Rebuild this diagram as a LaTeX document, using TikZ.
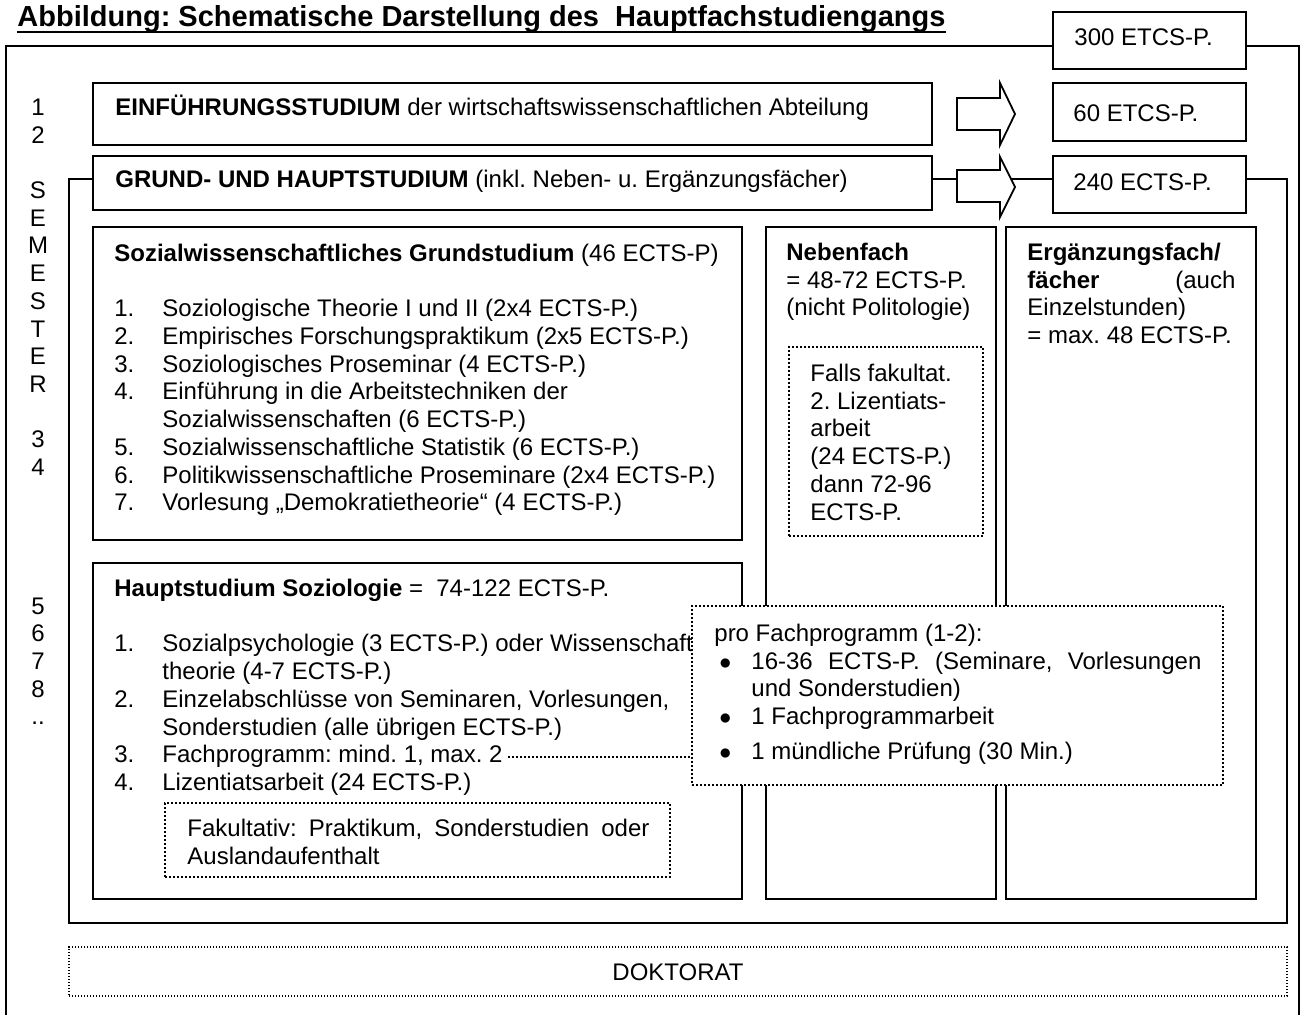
\documentclass[tikz,border=0pt]{standalone}
\usepackage{fontspec}
\setmainfont{Liberation Sans}
\usetikzlibrary{fit}
\frenchspacing

\tikzset{
  kasten/.style={draw, line width=0.9pt, fill=white, inner sep=0pt},
  punktkasten/.style={draw, line width=0.9pt, dash pattern=on 0.9pt off 1.1pt, inner sep=0pt},
  feinkasten/.style={draw, line width=0.6pt, dash pattern=on 0.6pt off 0.9pt, inner sep=0pt},
  txt/.style={inner sep=0pt, anchor=base west},
  pfeil/.style={draw, line width=0.9pt, fill=white}
}

\begin{document}
\begin{tikzpicture}[x=0.5pt, y=-0.5pt, font=\fontsize{12}{13.85}\selectfont]
\useasboundingbox[fill=white] (0,0) rectangle (1304,1015);

% Titel
\node[txt, font=\fontsize{14.5}{16}\selectfont\bfseries] (titel) at (17,27) {Abbildung: Schematische Darstellung des\ \ Hauptfachstudiengangs};
\draw[line width=1.3pt] ([yshift=-2.5pt]titel.base west) -- ([yshift=-2.5pt]titel.base east);

% Rahmen
\draw[line width=0.9pt] (6,1016) -- (6,46) -- (1299,46) -- (1299,1016);
\node[kasten, fit={(1053,12) (1246,69)}] (ects300) {};
\node[txt] (t300) at (1074,45.5) {300 ETCS-P.};
\draw[line width=0.9pt] (69,179) rectangle (1287,923);

% Semester
\node[txt, anchor=base] (sem) at (38,115.5) {\begin{tabular}[t]{@{}c@{}}1\\2\\ \\S\\E\\M\\E\\S\\T\\E\\R\\ \\3\\4\\ \\ \\ \\ \\5\\6\\7\\8\\..\end{tabular}};

% Einfuehrung und Grundstudium
\node[kasten, fit={(93,83) (932,145)}] (einf) {};
\node[txt] (tEinf) at (115,116) {\textbf{EINFÜHRUNGSSTUDIUM} der wirtschaftswissenschaftlichen Abteilung};
\node[kasten, fit={(93,156) (932,210)}] (grund) {};
\node[txt] (tGrund) at (115,188) {\textbf{GRUND- UND HAUPTSTUDIUM} (inkl. Neben- u. Ergänzungsfächer)};

\draw[pfeil] (957,98) -- (1000,98) -- (1000,83) -- (1015,114) -- (1000,145) -- (1000,130) -- (957,130) -- cycle;
\draw[pfeil] (957,170) -- (1000,170) -- (1000,157) -- (1015,187) -- (1000,217) -- (1000,202) -- (957,202) -- cycle;

\node[kasten, fit={(1053,83) (1246,141)}] (ects60) {};
\node[txt] (t60) at (1073,121.5) {60 ETCS-P.};
\node[kasten, fit={(1053,156) (1246,213)}] (ects240) {};
\node[txt] (t240) at (1073,190.5) {240 ECTS-P.};

% Grundstudium
\node[kasten, fit={(93,227) (742,540)}] (sowi) {};
\node[txt] (tSowi) at (114,261.5) {\begin{tabular}[t]{@{}p{24pt}@{}l@{}}
\multicolumn{2}{@{}l@{}}{\textbf{Sozialwissenschaftliches Grundstudium} (46 ECTS-P)}\\
 \\
1.&Soziologische Theorie I und II (2x4 ECTS-P.)\\
2.&Empirisches Forschungspraktikum (2x5 ECTS-P.)\\
3.&Soziologisches Proseminar (4 ECTS-P.)\\
4.&Einführung in die Arbeitstechniken der\\
&Sozialwissenschaften (6 ECTS-P.)\\
5.&Sozialwissenschaftliche Statistik (6 ECTS-P.)\\
6.&Politikwissenschaftliche Proseminare (2x4 ECTS-P.)\\
7.&Vorlesung „Demokratietheorie“ (4 ECTS-P.)
\end{tabular}};

% Hauptstudium
\node[kasten, fit={(93,563) (742,899)}] (haupt) {};
\node[txt] (tHaupt) at (114,596.5) {\begin{tabular}[t]{@{}p{24pt}@{}l@{}}
\multicolumn{2}{@{}l@{}}{\textbf{Hauptstudium Soziologie} = \ 74-122 ECTS-P.}\\
 \\
1.&Sozialpsychologie (3 ECTS-P.) oder Wissenschafts-\\
&theorie (4-7 ECTS-P.)\\
2.&Einzelabschlüsse von Seminaren, Vorlesungen,\\
&Sonderstudien (alle übrigen ECTS-P.)\\
3.&Fachprogramm: mind. 1, max. 2\\
4.&Lizentiatsarbeit (24 ECTS-P.)
\end{tabular}};
\node[punktkasten, fit={(165,803) (670,877)}] (fakult) {};
\node[txt] (tFakult) at (187,836.5) {\begin{tabular}[t]{@{}l@{}}
\makebox[231pt][s]{Fakultativ: Praktikum, Sonderstudien oder}\\
Auslandaufenthalt
\end{tabular}};

% Nebenfach, Ergaenzungsfach
\node[kasten, fit={(766,227) (996,899)}] (neben) {};
\node[txt] (tNeben) at (786,260.5) {\begin{tabular}[t]{@{}l@{}}
\textbf{Nebenfach}\\= 48-72 ECTS-P.\\(nicht Politologie)
\end{tabular}};
\node[punktkasten, fit={(789,347) (983,536)}] (falls) {};
\node[txt] (tFalls) at (810,381.5) {\begin{tabular}[t]{@{}l@{}}
Falls fakultat.\\2. Lizentiats-\\arbeit\\(24 ECTS-P.)\\dann 72-96\\ECTS-P.
\end{tabular}};
\node[kasten, fit={(1006,227) (1256,899)}] (ergaenz) {};
\node[txt] (tErgaenz) at (1027,260.5) {\begin{tabular}[t]{@{}l@{}}
\textbf{Ergänzungsfach/}\\
\makebox[104pt][s]{\textbf{fächer} (auch}\\
Einzelstunden)\\
= max. 48 ECTS-P.
\end{tabular}};

% Fachprogramm
\coordinate (fpEnde) at (508,757);
\node[kasten, punktkasten, fill=white, fit={(692,606) (1223,785)}] (pro) {};
\draw[line width=0.9pt, dash pattern=on 0.9pt off 1.1pt] (fpEnde) -- (pro.west |- fpEnde);
\node[txt] (tPro) at (714,641.5) {\begin{tabular}[t]{@{}l@{\hspace{2.5pt}}p{16pt}@{}l@{}}
\multicolumn{3}{@{}l@{}}{pro Fachprogramm (1-2):}\\
&$\bullet$&\makebox[225pt][s]{16-36 ECTS-P. (Seminare, Vorlesungen}\\
&&und Sonderstudien)\\
&$\bullet$&1 Fachprogrammarbeit\\[3.5pt]
&$\bullet$&1 mündliche Prüfung (30 Min.)
\end{tabular}};

% Doktorat
\node[feinkasten, fit={(69,947) (1287,996)}] (dok) {};
\node[inner sep=0pt, anchor=base] (tDok) at (678,980.5) {DOKTORAT};
\end{tikzpicture}
\end{document}
